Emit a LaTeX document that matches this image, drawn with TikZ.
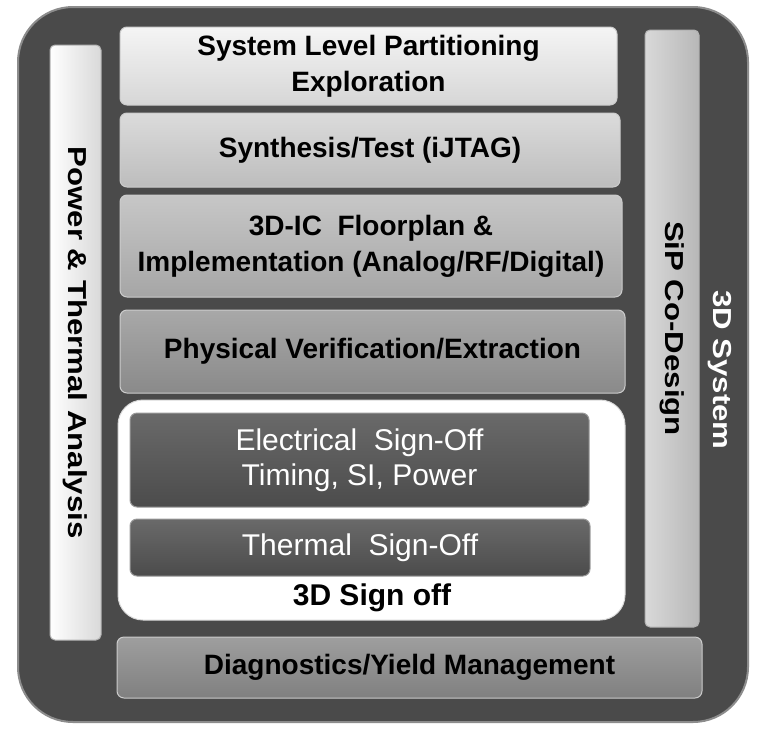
\documentclass[tikz,border=0pt]{standalone}
\usepackage{fontspec}
\usepackage{graphicx}
\setmainfont{Liberation Sans}
\definecolor{framegray}{HTML}{4A4A4A}
\definecolor{rimgray}{HTML}{8C8C8C}
\definecolor{signgray}{HTML}{595959}

\begin{document}
\begin{tikzpicture}[x=1pt,y=-1pt,
	stage/.style={rounded corners=7pt, draw=white!80!black, line width=1pt, align=center,
		inner sep=0pt, font=\fontsize{28}{36}\selectfont\bfseries},
	signbox/.style={stage, draw=gray!80, text=white, font=\fontsize{30}{35}\selectfont},
	bar/.style={rounded corners=5pt, draw=white!70!black, line width=1pt, rotate=-90,
		inner sep=0pt, font=\fontsize{26}{30}\selectfont\bfseries}]

		\fill[white] (0,0) rectangle (757,731);
		\useasboundingbox (0,0) rectangle (757,731);

		% outer frame
		\node[rounded corners=55pt, fill=framegray, draw=rimgray, line width=2pt,
			minimum width=730, minimum height=715] (sys) at (383,364.5) {};
		\node[rotate=-90, text=white, font=\fontsize{26}{30}\selectfont\bfseries] (syst) at (720,370) {\scalebox{1.2}[1]{3D System}};

		% side bars
		\node[bar, left color=white, right color=white!85!black, minimum width=595, minimum height=51] (pta) at (75.5,342.5) {\scalebox{1.2}[1]{Power \& Thermal Analysis}};
		\node[bar, left color=white!85!black, right color=white!72!black, minimum width=597, minimum height=54] (sip) at (672,328.5) {\scalebox{1.2}[1]{SiP Co-Design}};

		% flow stages
		\node[stage, top color=white!96!black, bottom color=white!84!black, minimum width=497, minimum height=78] (slp) at (368.5,66) {System Level Partitioning\\Exploration};
		\node[stage, top color=white!86!black, bottom color=white!74!black, minimum width=500, minimum height=74] (syn) at (370,150) {Synthesis/Test (iJTAG)};
		\node[stage, top color=white!78!black, bottom color=white!65!black, minimum width=502, minimum height=102] (fpl) at (371,246) {3D-IC\ \ Floorplan \&\\Implementation (Analog/RF/Digital)};
		\node[stage, top color=white!66!black, bottom color=white!54!black, minimum width=505, minimum height=83] (pve) at (372.5,351.5) {Physical Verification/Extraction};

		% sign off group
		\node[rounded corners=25pt, fill=white, draw=white!85!black, line width=1pt, minimum width=507, minimum height=220] (sgn) at (371.5,510) {};
		\node[signbox, top color=signgray!90!white, bottom color=signgray!85!black, minimum width=459, minimum height=94] (elec) at (359.5,460) {Electrical\ \ Sign-Off\\Timing, SI, Power};
		\node[signbox, top color=signgray!90!white, bottom color=signgray!85!black, minimum width=460, minimum height=57] (therm) at (360,547.5) {Thermal\ \ Sign-Off};
		\node[font=\fontsize{30}{36}\selectfont\bfseries] (sgnt) at (372,598) {3D Sign off};

		\node[stage, top color=white!62!black, bottom color=white!50!black, minimum width=585, minimum height=61] (diag) at (409.5,667.5) {Diagnostics/Yield Management};

	\end{tikzpicture}
\end{document}
